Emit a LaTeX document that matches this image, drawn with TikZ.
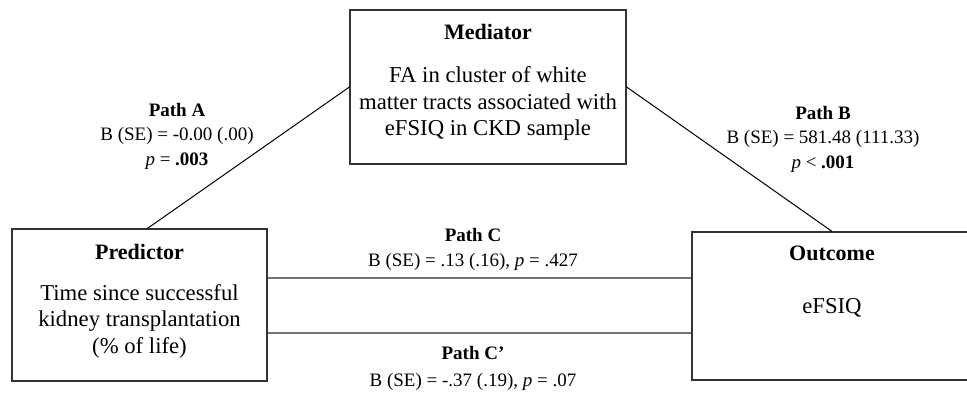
\documentclass[tikz,border=0pt]{standalone}
\usepackage{fontspec}
\setmainfont{Liberation Serif}
\begin{document}
\begin{tikzpicture}[x=1pt,y=1pt,
  box/.style={draw=black!80,line width=1.2pt,rectangle,inner sep=0pt},
  big/.style={font=\fontsize{22.7}{26.5}\selectfont,align=center,inner sep=0pt},
  ttl/.style={font=\fontsize{22}{26}\selectfont\bfseries,inner sep=0pt},
  lab/.style={font=\fontsize{19}{24.5}\selectfont,align=center,inner sep=0pt},
  diag/.style={draw=black,line width=1pt},
  hline/.style={draw=black!55,line width=2pt}]
\useasboundingbox (0,0) rectangle (967,-394);
\clip (0,0) rectangle (967,-394);
\fill[white] (0,0) rectangle (967,-394);
% boxes
\node[box,minimum width=276pt,minimum height=154pt] (med) at (488,-87) {};
\node[box,minimum width=255pt,minimum height=152pt] (pred) at (139.5,-305) {};
\node[box,minimum width=280pt,minimum height=148pt] (out) at (832,-306) {};
% box texts
\node[ttl] (medt) at (488,-32) {Mediator};
\node[big] (medb) at (488,-103.5) {FA in cluster of white\\matter tracts associated with\\eFSIQ in CKD sample};
\node[ttl] (predt) at (139.5,-252) {Predictor};
\node[big] (predb) at (139.5,-321) {Time since successful\\kidney transplantation\\(\% of life)};
\node[ttl] (outt) at (832,-253) {Outcome};
\node[big] (outb) at (832,-308) {eFSIQ};
% connectors
\coordinate (yc) at (0,-278);
\coordinate (ycp) at (0,-333);
\draw[diag] (med.west) -- ([xshift=8pt]pred.north);
\draw[diag] (med.east) -- (out.north);
\draw[hline] (pred.east |- yc) -- (out.west |- yc);
\draw[hline] (pred.east |- ycp) -- (out.west |- ycp);
% labels
\node[lab] (la) at (177,-136) {\textbf{Path A}\\B (SE) = -0.00 (.00)\\\textit{p} = \textbf{.003}};
\node[lab] (lb) at (823,-139) {\textbf{Path B}\\B (SE) = 581.48 (111.33)\\\textit{p} < \textbf{.001}};
\node[lab] (lc) at (473,-249.5) {\textbf{Path C}\\B (SE) = .13 (.16), \textit{p} = .427};
\node[lab,font=\fontsize{19}{26.5}\selectfont] (lcp) at (473,-368.5) {\textbf{Path C’}\\B (SE) = -.37 (.19), \textit{p} = .07};
\end{tikzpicture}
\end{document}
